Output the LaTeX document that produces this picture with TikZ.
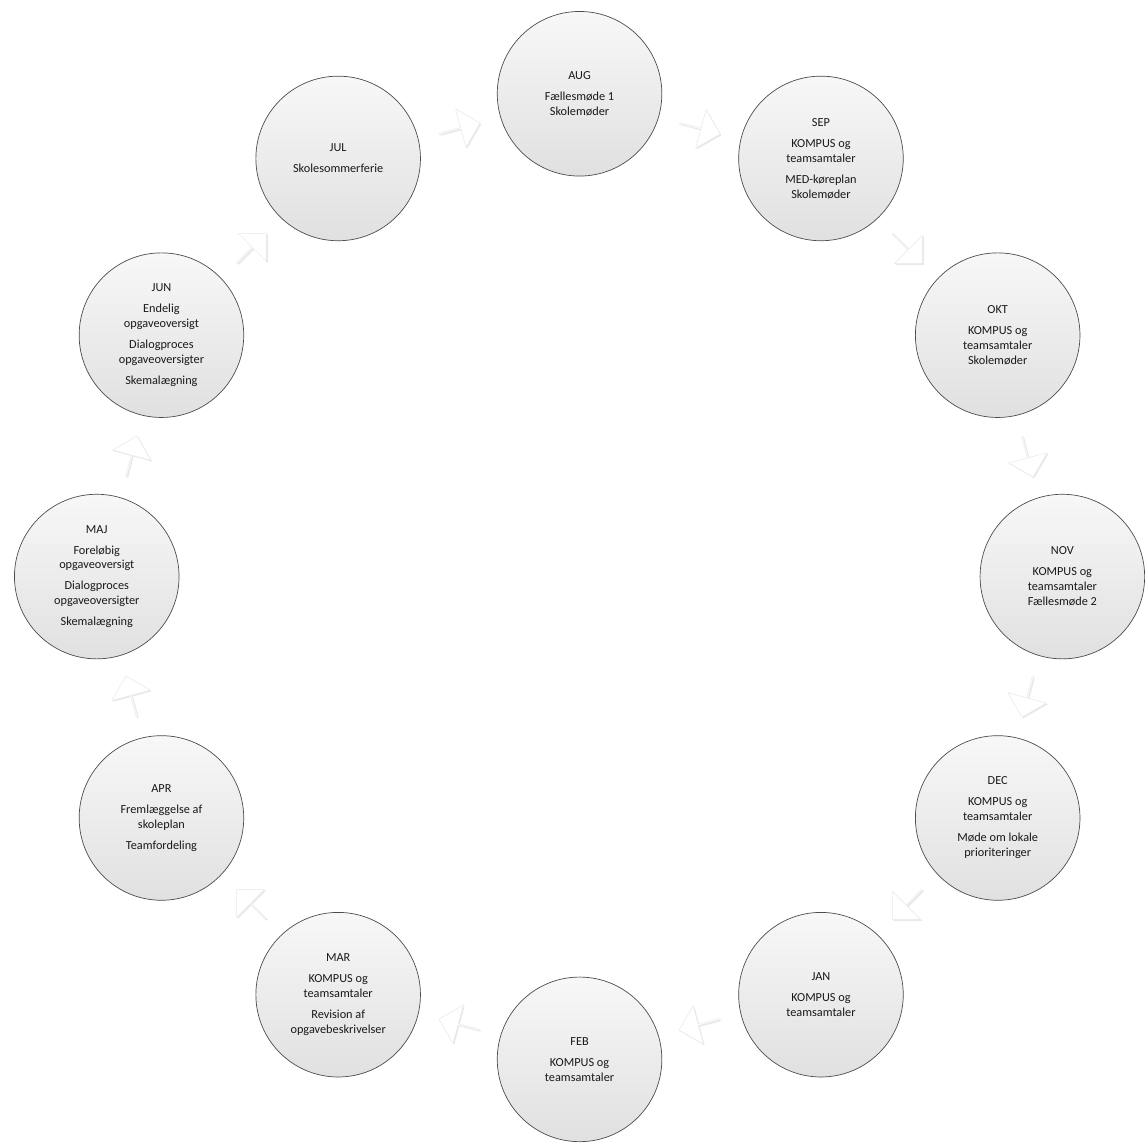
\documentclass[tikz,border=0pt]{standalone}
\usepackage{fontspec}
\setmainfont{Carlito}
\usetikzlibrary{shapes.arrows,shadows}
\begin{document}
\begin{tikzpicture}[x=1pt,y=-1pt,
  month/.style={circle, minimum size=165pt, inner sep=0pt, draw=black!70, line width=0.7pt,
    top color=gray!6, bottom color=gray!24, align=center, text=black!90,
    font=\fontsize{12.3}{15}\selectfont},
  arr/.style={single arrow, minimum height=42pt, minimum width=40pt, single arrow head extend=7pt,
    inner sep=0pt, fill=white, draw=gray!18, line width=0.5pt,
    drop shadow={opacity=0.18, shadow xshift=1.2pt, shadow yshift=-1.2pt}}]
\def\cx{581}\def\cy{578}\def\R{484}\def\Ra{465}
\path[fill=white] (0,0) rectangle (1145,1145);
\node[month] (aug) at ({\cx+\R*cos(90)},{\cy-\R*sin(90)}) {AUG\\[6pt]Fællesmøde 1\\Skolemøder};
\node[month] (sep) at ({\cx+\R*cos(60)},{\cy-\R*sin(60)}) {SEP\\[6pt]KOMPUS og\\teamsamtaler\\[6pt]MED-køreplan\\Skolemøder};
\node[month] (okt) at ({\cx+\R*cos(30)},{\cy-\R*sin(30)}) {OKT\\[6pt]KOMPUS og\\teamsamtaler\\Skolemøder};
\node[month] (nov) at ({\cx+\R*cos(0)},{\cy-\R*sin(0)}) {NOV\\[6pt]KOMPUS og\\teamsamtaler\\Fællesmøde 2};
\node[month] (dec) at ({\cx+\R*cos(-30)},{\cy-\R*sin(-30)}) {DEC\\[6pt]KOMPUS og\\teamsamtaler\\[6pt]Møde om lokale\\prioriteringer};
\node[month] (jan) at ({\cx+\R*cos(-60)},{\cy-\R*sin(-60)}) {JAN\\[6pt]KOMPUS og\\teamsamtaler};
\node[month] (feb) at ({\cx+\R*cos(-90)},{\cy-\R*sin(-90)}) {FEB\\[6pt]KOMPUS og\\teamsamtaler};
\node[month] (mar) at ({\cx+\R*cos(-120)},{\cy-\R*sin(-120)}) {MAR\\[6pt]KOMPUS og\\teamsamtaler\\[6pt]Revision af\\opgavebeskrivelser};
\node[month] (apr) at ({\cx+\R*cos(-150)},{\cy-\R*sin(-150)}) {APR\\[6pt]Fremlæggelse af\\skoleplan\\[6pt]Teamfordeling};
\node[month] (maj) at ({\cx+\R*cos(180)},{\cy-\R*sin(180)}) {MAJ\\[6pt]Foreløbig\\opgaveoversigt\\[6pt]Dialogproces\\opgaveoversigter\\[6pt]Skemalægning};
\node[month] (jun) at ({\cx+\R*cos(150)},{\cy-\R*sin(150)}) {JUN\\[6pt]Endelig\\opgaveoversigt\\[6pt]Dialogproces\\opgaveoversigter\\[6pt]Skemalægning};
\node[month] (jul) at ({\cx+\R*cos(120)},{\cy-\R*sin(120)}) {JUL\\[6pt]Skolesommerferie};
% connector arrows between months (clockwise)
\foreach \a/\n in {75/a1,45/a2,15/a3,-15/a4,-45/a5,-75/a6,-105/a7,-135/a8,-165/a9,165/a10,135/a11,105/a12}{
  \node[arr, rotate=\a-90] (\n) at ({\cx+\Ra*cos(\a)},{\cy-\Ra*sin(\a)}) {};
}
\end{tikzpicture}
\end{document}
